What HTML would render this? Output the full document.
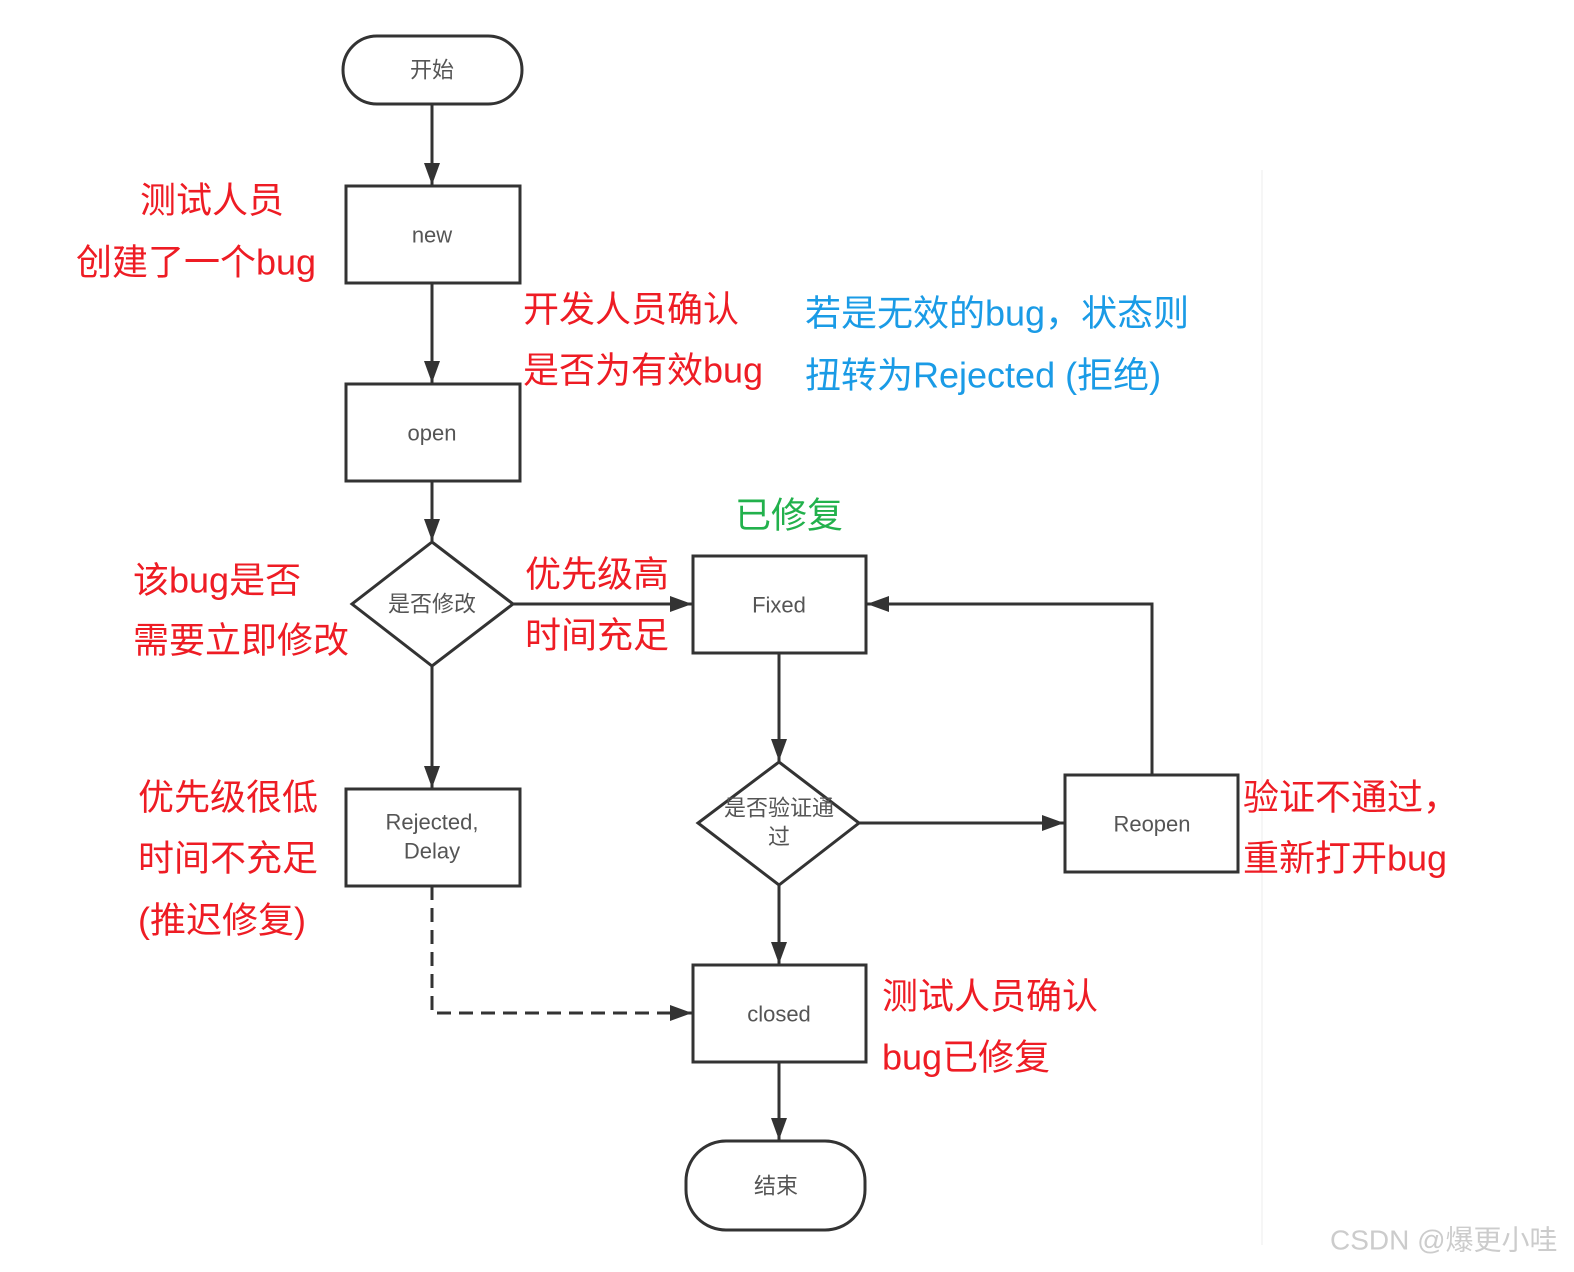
<!DOCTYPE html>
<html><head><meta charset="utf-8"><style>
html,body{margin:0;padding:0;background:#fff;}
svg{display:block;}
.n{font-family:"Liberation Sans","Noto Sans CJK SC",sans-serif;font-size:22px;fill:#555;text-anchor:middle;dominant-baseline:central;}
.a{font-family:"Liberation Sans","Noto Sans CJK SC",sans-serif;font-size:36px;dominant-baseline:central;}
.r{fill:#ee1c24;} .b{fill:#1a9be6;} .g{fill:#22b14c;}
</style></head><body>
<svg width="1574" height="1272" viewBox="0 0 1574 1272" xmlns="http://www.w3.org/2000/svg">
<defs><marker id="ar" markerWidth="10" markerHeight="10" refX="9" refY="5" orient="auto" markerUnits="userSpaceOnUse" viewBox="0 0 10 10"><path d="M0,0 L10,5 L0,10 z" fill="#333"/></marker>
<marker id="arr" markerWidth="22" markerHeight="16" refX="22" refY="8" orient="auto" markerUnits="userSpaceOnUse"><path d="M0,0 L22,8 L0,16 z" fill="#333"/></marker></defs>
<line x1="1262" y1="170" x2="1262" y2="1245" stroke="#eee" stroke-width="1"/>
<g fill="none" stroke="#333" stroke-width="3">
<rect x="343" y="36" width="179" height="68" rx="34"/>
<rect x="346" y="186" width="174" height="97"/>
<rect x="346" y="384" width="174" height="97"/>
<polygon points="432,542 513,604 432,666 352,604"/>
<rect x="693" y="556" width="173" height="97"/>
<rect x="346" y="789" width="174" height="97"/>
<polygon points="779,762 859,823 779,885 698,823"/>
<rect x="1065" y="775" width="173" height="97"/>
<rect x="693" y="965" width="173" height="97"/>
<rect x="686" y="1141" width="179" height="89" rx="40"/>
</g>
<g stroke="#333" stroke-width="3" fill="none" marker-end="url(#arr)">
<line x1="432" y1="104" x2="432" y2="185"/>
<line x1="432" y1="283" x2="432" y2="383"/>
<line x1="432" y1="481" x2="432" y2="541"/>
<line x1="513" y1="604" x2="692" y2="604"/>
<line x1="432" y1="666" x2="432" y2="788"/>
<line x1="779" y1="653" x2="779" y2="761"/>
<line x1="859" y1="823" x2="1064" y2="823"/>
<polyline points="1152,775 1152,604 867,604"/>
<line x1="779" y1="885" x2="779" y2="964"/>
<line x1="779" y1="1062" x2="779" y2="1140"/>
<polyline points="432,886 432,1013 692,1013" stroke-dasharray="14,8"/>
</g>
<text class="n" x="432" y="70">开始</text>
<text class="n" x="432" y="235">new</text>
<text class="n" x="432" y="433">open</text>
<text class="n" x="432" y="604">是否修改</text>
<text class="n" x="779" y="605">Fixed</text>
<text class="n" x="432" y="822">Rejected,</text>
<text class="n" x="432" y="851">Delay</text>
<text class="n" x="779" y="808">是否验证通</text>
<text class="n" x="779" y="837">过</text>
<text class="n" x="1152" y="824">Reopen</text>
<text class="n" x="779" y="1014">closed</text>
<text class="n" x="776" y="1186">结束</text>
<text class="a r" x="140" y="200">测试人员</text>
<text class="a r" x="76" y="262">创建了一个bug</text>
<text class="a r" x="523" y="309">开发人员确认</text>
<text class="a r" x="523" y="370">是否为有效bug</text>
<text class="a b" x="805" y="313">若是无效的bug，状态则</text>
<text class="a b" x="805" y="375">扭转为Rejected (拒绝)</text>
<text class="a g" x="735" y="515">已修复</text>
<text class="a r" x="133" y="580">该bug是否</text>
<text class="a r" x="133" y="640">需要立即修改</text>
<text class="a r" x="525" y="574">优先级高</text>
<text class="a r" x="525" y="635">时间充足</text>
<text class="a r" x="138" y="797">优先级很低</text>
<text class="a r" x="138" y="858">时间不充足</text>
<text class="a r" x="138" y="920">(推迟修复)</text>
<text class="a r" x="1243" y="797">验证不通过，</text>
<text class="a r" x="1243" y="858">重新打开bug</text>
<text class="a r" x="882" y="996">测试人员确认</text>
<text class="a r" x="882" y="1057">bug已修复</text>
<text x="1330" y="1240" style="font-family:'Liberation Sans','Noto Sans CJK SC',sans-serif;font-size:28px;fill:#ccc;dominant-baseline:central;">CSDN @爆更小哇</text>
</svg>
</body></html>
